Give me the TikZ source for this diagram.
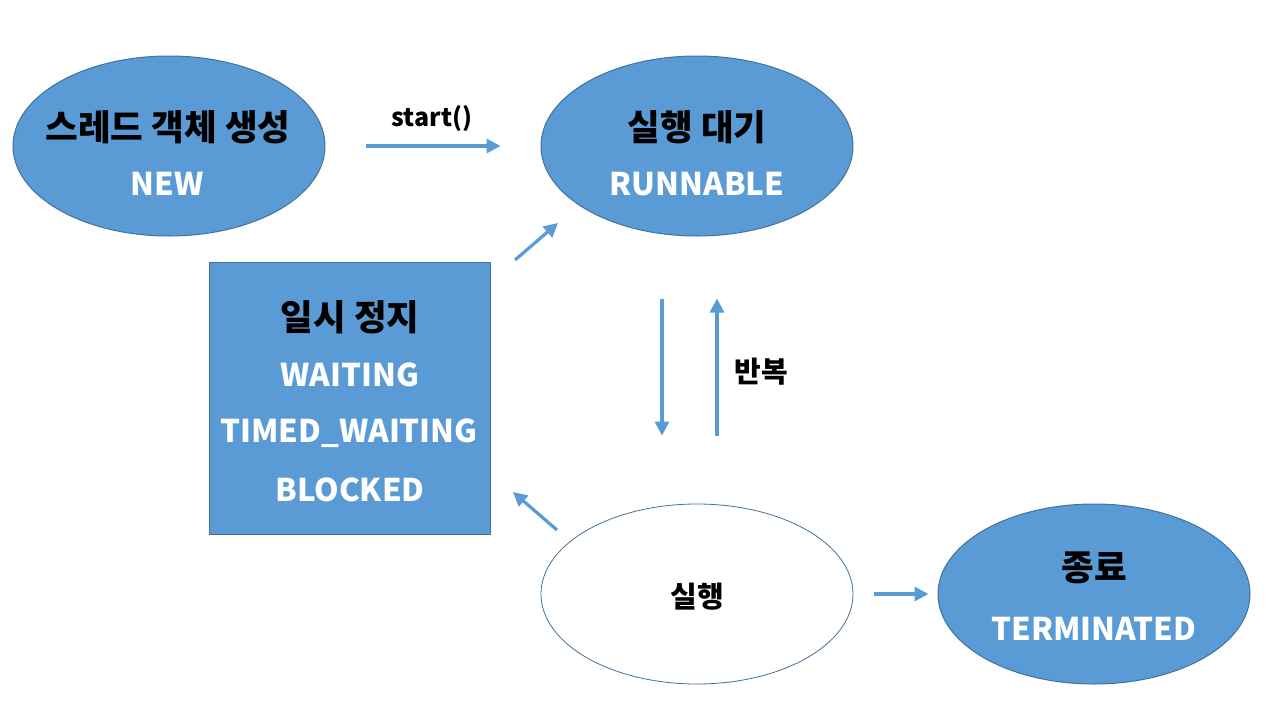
\documentclass[tikz,border=0pt]{standalone}
\usepackage{fontspec}
\setmainfont{Noto Sans CJK KR}
\usetikzlibrary{shapes.geometric,arrows.meta}
\definecolor{fillblue}{HTML}{5B9BD5}
\definecolor{edgeblue}{HTML}{41719C}
\begin{document}
\begin{tikzpicture}[x=1pt,y=-1pt,
  stateov/.style={ellipse,draw=edgeblue,line width=1pt,fill=fillblue,minimum width=312pt,minimum height=180pt,inner sep=0pt},
  execov/.style={ellipse,draw=edgeblue,line width=0.8pt,fill=white,minimum width=312pt,minimum height=180pt,inner sep=0pt},
  pausebox/.style={rectangle,draw=edgeblue,line width=1pt,fill=fillblue,minimum width=281pt,minimum height=272pt,inner sep=0pt},
  blk/.style={font=\fontsize{35.5}{40}\selectfont\bfseries,text=black,inner sep=0pt},
  wht/.style={font=\fontsize{31.3}{36}\selectfont\bfseries,text=white,inner sep=0pt},
  small/.style={font=\fontsize{29}{34}\selectfont\bfseries,text=black,inner sep=0pt},
  lbl/.style={font=\fontsize{25}{30}\selectfont\bfseries,text=black,inner sep=0pt},
  arr/.style={draw=fillblue,line width=3.2pt,-{Triangle[length=14pt,width=14pt]}}]
\useasboundingbox (0,0) rectangle (1280,720);
\node[stateov] (new) at (169,146) {};
\node[stateov] (run) at (697,146) {};
\node[pausebox] (pause) at (349.5,398) {};
\node[execov] (exec) at (697,594) {};
\node[stateov] (term) at (1094,594) {};

\node[blk] (newk) at (168,127) {스레드 객체 생성};
\node[wht] (newe) at (167,184) {NEW};
\node[blk] (runk) at (697,127) {실행 대기};
\node[wht] (rune) at (697,184) {RUNNABLE};
\node[blk] (pausek) at (350,317) {일시 정지};
\node[wht] (pw) at (350,375) {WAITING};
\node[wht] (ptw) at (349,433) {TIMED\_WAITING};
\node[wht] (pb) at (350,490) {BLOCKED};
\node[small] (execk) at (697,597) {실행};
\node[blk] (termk) at (1094,568) {종료};
\node[wht] (terme) at (1094,629) {TERMINATED};
\node[lbl] (startl) at (432,119) {start()};
\node[small] (repl) at (761,372) {반복};

\coordinate (d1s) at (515,260);
\coordinate (d1e) at (558,223);
\coordinate (d2s) at (557,530);
\coordinate (d2e) at (513,492);

\draw[arr,shorten <=40pt,shorten >=40pt] (new.east) -- (run.west);
\draw[arr] (d1s) -- (d1e);
\draw[arr,shorten <=62pt,shorten >=68pt] ([xshift=-35pt]run.south) -- ([xshift=-35pt]exec.north);
\draw[arr,shorten <=68pt,shorten >=62pt] ([xshift=20pt]exec.north) -- ([xshift=20pt]run.south);
\draw[arr] (d2s) -- (d2e);
\draw[arr,shorten <=21pt,shorten >=9pt] (exec.east) -- (term.west);
\end{tikzpicture}
\end{document}
